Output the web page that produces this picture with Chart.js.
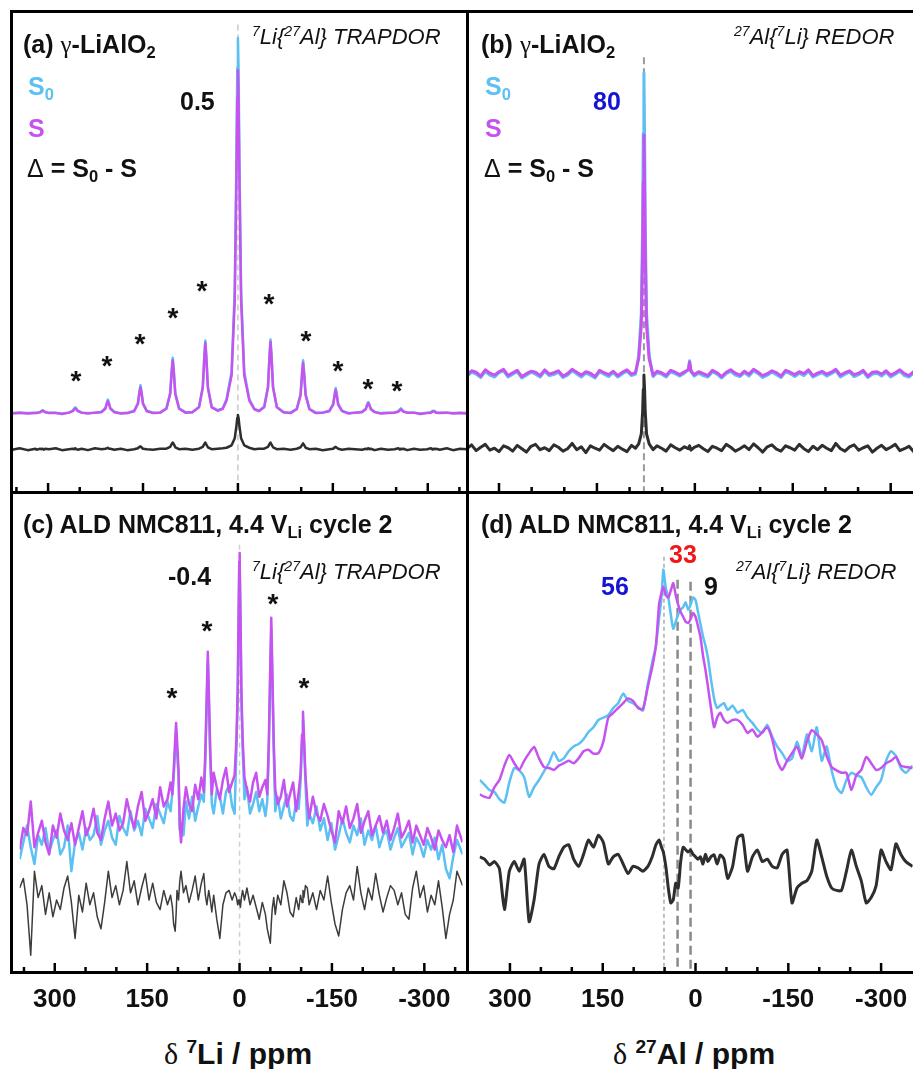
<!DOCTYPE html>
<html>
<head>
<meta charset="utf-8">
<script src="https://cdn.jsdelivr.net/npm/chart.js@4.4.1/dist/chart.umd.min.js"></script>
<style>
html, body { margin: 0; padding: 0; background: #fff; overflow: hidden; }
#wrap { position: relative; width: 913px; height: 1069px; overflow: hidden; }
canvas { position: absolute; }
.bar { position: absolute; background: #000; }
.t { position: absolute; white-space: nowrap; line-height: 1; font-family: "Liberation Sans", Arial, sans-serif;
     font-weight: bold; font-size: 25px; color: #111; }
.t sub { font-size: 0.66em; vertical-align: -0.3em; line-height: 0; }
.t sup { font-size: 0.64em; vertical-align: 0.55em; line-height: 0; }
.t .n { font-weight: normal; }
.t.it { font-style: italic; font-weight: normal; font-size: 22px; }
.t.star { font-size: 28px; transform: translateX(-50%); }
.t.ax { font-size: 30px; transform: translateX(-50%); }
.t .greek { font-family: "Liberation Serif", serif; font-weight: normal; }
</style>
</head>
<body>
<div id="wrap">
  <canvas id="pa" width="455" height="481" style="left:12px;top:11px"></canvas>
  <canvas id="pb" width="457" height="481" style="left:467px;top:11px"></canvas>
  <canvas id="pc" width="455" height="540" style="left:12px;top:492px"></canvas>
  <canvas id="pd" width="457" height="540" style="left:467px;top:492px"></canvas>
  <div style="position:absolute;left:10px;top:10px;width:915px;height:964px;border:3px solid #000;box-sizing:border-box"></div>
  <div class="bar" style="left:466px;top:10px;width:3px;height:964px"></div>
  <div class="bar" style="left:10px;top:491px;width:915px;height:3px"></div>
</div>
<script>
// x ranges (ppm), left edge first
const liRange = [357, -362];
const alRange = [349, -351];
const tickPpm = [350, 300, 250, 200, 150, 100, 50, 0, -50, -100, -150, -200, -250, -300, -350];
const labelPpm = [300, 150, 0, -150, -300];

// (a) 7Li{27Al} TRAPDOR, gamma-LiAlO2
const aPpm = [357, 345, 332, 320,
  318.5, 312.5, 310, 308.5, 307, 304.5, 298.5, 288, 278,
  267, 261, 258.5, 257, 255.5, 253, 247, 237, 226,
  215.5, 209.5, 207, 205.5, 204, 201.5, 195.5, 185, 175,
  164, 158, 155.5, 154, 152.5, 150, 144, 134, 123,
  113, 107, 104.5, 103, 101.5, 99, 93, 83, 72,
  61.5, 55.5, 53, 51.5, 50, 47.5, 41.5, 32, 24,
  18, 10, 5, 2.5, 1, 0, -1, -2.5, -5, -10, -18, -26, -33,
  -41.5, -47.5, -50, -51.5, -53, -55.5, -61.5, -72, -83,
  -93, -99, -101.5, -103, -104.5, -107, -113, -123, -134,
  -144.5, -150.5, -153, -154.5, -156, -158.5, -164.5, -175, -185,
  -196, -202, -204.5, -206, -207.5, -210, -216, -226, -237,
  -247.5, -253.5, -256, -257.5, -259, -261.5, -267.5, -278, -288,
  -299, -305, -307.5, -309, -310.5, -313, -319, -330, -340, -351, -362];
const aS0 = [16.4, 16.5, 16.4, 16.5,
  16.5, 16.6, 16.8, 17.0, 16.8, 16.6, 16.5, 16.5, 16.3,
  16.5, 16.9, 17.4, 17.6, 17.4, 16.9, 16.5, 16.4, 16.5,
  16.7, 17.4, 18.6, 19.2, 18.6, 17.4, 16.7, 16.4, 16.4,
  16.9, 18.5, 21.0, 22.2, 21.0, 18.5, 16.9, 16.5, 16.5,
  17.4, 20.6, 25.6, 27.9, 25.6, 20.6, 17.4, 16.6, 16.6,
  17.7, 21.9, 28.5, 31.5, 28.5, 21.9, 17.7, 17.0, 17.4,
  19.3, 25.0, 42.1, 67.9, 88.2, 94.4, 88.2, 67.9, 42.1, 25.0, 19.3, 17.3, 16.9,
  17.7, 21.9, 28.6, 31.7, 28.6, 21.9, 17.7, 16.6, 16.5,
  17.3, 20.3, 25.1, 27.4, 25.1, 20.3, 17.3, 16.5, 16.5,
  16.9, 18.3, 20.5, 21.6, 20.5, 18.3, 16.9, 16.4, 16.5,
  16.7, 17.3, 18.3, 18.7, 18.3, 17.3, 16.7, 16.4, 16.5,
  16.5, 16.8, 17.2, 17.4, 17.2, 16.8, 16.5, 16.5, 16.3,
  16.5, 16.6, 16.8, 16.9, 16.8, 16.6, 16.5, 16.5, 16.4, 16.5, 16.4];
const aS = [16.3, 16.5, 16.3, 16.4,
  16.4, 16.6, 16.8, 16.9, 16.8, 16.6, 16.4, 16.4, 16.2,
  16.5, 16.8, 17.2, 17.4, 17.2, 16.8, 16.5, 16.3, 16.5,
  16.6, 17.3, 18.4, 18.9, 18.4, 17.3, 16.6, 16.3, 16.4,
  16.8, 18.3, 20.7, 21.8, 20.7, 18.3, 16.8, 16.4, 16.5,
  17.3, 20.4, 25.2, 27.4, 25.2, 20.4, 17.3, 16.5, 16.6,
  17.6, 21.7, 28.1, 31.0, 28.1, 21.7, 17.6, 16.9, 17.3,
  19.0, 24.2, 39.9, 63.5, 82.0, 87.7, 82.0, 63.5, 39.9, 24.2, 19.0, 17.2, 16.8,
  17.6, 21.7, 28.2, 31.2, 28.2, 21.7, 17.6, 16.6, 16.4,
  17.2, 20.1, 24.7, 26.8, 24.7, 20.1, 17.2, 16.4, 16.5,
  16.8, 18.1, 20.2, 21.2, 20.2, 18.1, 16.8, 16.3, 16.5,
  16.6, 17.2, 18.1, 18.5, 18.1, 17.2, 16.6, 16.3, 16.4,
  16.5, 16.7, 17.0, 17.2, 17.0, 16.7, 16.5, 16.5, 16.2,
  16.4, 16.5, 16.7, 16.8, 16.7, 16.5, 16.4, 16.5, 16.3, 16.4, 16.3];
const aDiff = [8.8, 9.1, 8.7, 9.0,
  8.8, 9.0, 8.9, 9.0, 8.8, 9.0, 8.9, 9.1, 8.7,
  8.9, 9.0, 8.9, 9.1, 8.9, 8.8, 9.0, 8.7, 9.1,
  8.9, 9.0, 9.1, 9.2, 9.0, 9.0, 8.8, 9.0, 8.7,
  8.9, 9.1, 9.4, 9.5, 9.3, 9.0, 8.9, 8.8, 9.0,
  9.0, 9.4, 10.0, 10.3, 10.0, 9.3, 8.9, 9.0, 8.8,
  9.0, 9.4, 10.0, 10.3, 9.9, 9.3, 8.9, 9.0, 9.1,
  9.2, 9.7, 11.2, 13.6, 15.4, 16.0, 15.4, 13.6, 11.2, 9.7, 9.2, 8.9, 9.0,
  9.0, 9.4, 10.0, 10.3, 9.9, 9.3, 8.9, 9.0, 8.8,
  9.0, 9.3, 9.8, 10.1, 9.8, 9.2, 8.9, 9.0, 8.7,
  8.9, 9.0, 9.3, 9.4, 9.2, 9.0, 8.8, 9.0, 8.9,
  8.8, 9.0, 8.9, 9.1, 8.9, 9.0, 8.7, 9.0, 8.8,
  8.9, 9.1, 8.8, 9.0, 8.9, 9.0, 8.7, 9.0, 8.8,
  8.9, 9.1, 8.8, 9.0, 8.9, 9.0, 8.8, 9.1, 8.7, 9.0, 8.9];

// (b) 27Al{7Li} REDOR, gamma-LiAlO2
const bPpm = [349, 342, 335, 328, 321, 314, 307, 300, 293, 286,
  279, 272, 265, 258, 251, 244, 237, 230, 223, 216,
  209, 202, 195, 188, 181, 174, 167, 160, 153, 146,
  139, 132, 125, 118, 111, 104, 97, 91,
  86, 82, 80, 79, 78, 77, 76, 74, 70,
  64, 58, 51, 44, 37, 30, 23, 16, 10, 8, 6, 1,
  -6, -13, -20, -27, -34, -41, -48, -55, -62, -69,
  -76, -83, -90, -97, -104, -111, -118, -125, -132, -139,
  -146, -153, -160, -167, -174, -181, -188, -195, -202, -209,
  -216, -223, -230, -237, -244, -251, -258, -265, -272, -279,
  -286, -293, -300, -307, -314, -321, -328, -335, -342, -351];
const bS0 = [24.1, 24.9, 24.5, 23.8, 25.1, 24.3, 23.9, 24.8, 25.2, 23.9,
  24.5, 25.0, 23.7, 24.3, 24.9, 24.5, 23.9, 25.1, 24.2, 24.4,
  24.9, 23.8, 24.3, 25.2, 24.6, 23.9, 24.7, 24.3, 23.7, 25.0,
  24.5, 24.0, 24.8, 23.9, 24.6, 25.1, 24.2, 24.5,
  28.4, 37.2, 55.9, 74.6, 87.1, 74.6, 55.9, 37.2, 28.4,
  24.0, 24.8, 24.5, 23.9, 25.0, 24.6, 24.1, 24.7, 25.5, 27.3, 25.0, 24.1,
  24.7, 24.2, 23.9, 25.0, 24.5, 23.7, 24.6, 25.1, 24.3, 24.0,
  24.8, 24.1, 25.2, 24.6, 23.8, 24.3, 24.9, 24.4, 23.8, 25.0,
  24.6, 24.0, 24.7, 24.2, 25.1, 23.9, 24.4, 24.8, 24.1, 24.6,
  25.2, 23.9, 24.5, 24.9, 24.0, 24.4, 25.0, 23.8, 24.5, 24.7,
  24.1, 24.9, 23.9, 24.5, 25.1, 24.2, 23.9, 24.7, 24.3, 24.3];
const bS = [24.4, 25.2, 24.9, 24.1, 25.4, 24.7, 24.3, 25.0, 25.5, 24.2,
  24.8, 25.3, 24.0, 24.6, 25.1, 24.9, 24.2, 25.4, 24.5, 24.8,
  25.2, 24.1, 24.6, 25.5, 24.9, 24.3, 25.0, 24.7, 24.0, 25.3,
  24.8, 24.4, 25.1, 24.2, 24.9, 25.4, 24.5, 24.8,
  27.7, 34.6, 49.5, 64.3, 74.2, 64.3, 49.5, 34.6, 27.7,
  24.3, 25.1, 24.8, 24.2, 25.3, 24.9, 24.4, 25.0, 25.4, 27.0, 25.2, 24.4,
  25.0, 24.6, 24.2, 25.3, 24.8, 24.0, 24.9, 25.4, 24.7, 24.3,
  25.1, 24.5, 25.5, 24.9, 24.2, 24.6, 25.2, 24.8, 24.1, 25.3,
  24.9, 24.4, 25.0, 24.6, 25.4, 24.2, 24.7, 25.1, 24.5, 24.9,
  25.5, 24.3, 24.8, 25.2, 24.4, 24.7, 25.3, 24.1, 24.9, 25.0,
  24.5, 25.2, 24.3, 24.8, 25.4, 24.6, 24.2, 25.0, 24.7, 24.6];
const bDiff = [9.0, 9.8, 8.6, 9.3, 9.9, 8.7, 9.1, 8.4, 9.6, 9.2,
  8.5, 9.7, 9.0, 8.3, 9.5, 9.9, 8.8, 9.2, 8.6, 9.8,
  9.3, 8.5, 9.0, 10.1, 8.8, 9.4, 8.2, 9.6, 9.1, 8.7,
  9.9, 9.2, 8.6, 9.5, 8.9, 8.4, 9.7, 9.1,
  10.0, 12.1, 16.7, 21.3, 24.3, 21.3, 16.7, 12.1, 10.0,
  8.8, 9.6, 9.1, 8.5, 9.8, 9.2, 8.7, 9.4, 9.0, 9.6, 8.7, 9.3,
  9.7, 9.0, 8.4, 9.5, 9.1, 8.6, 9.9, 9.3, 8.5, 9.0,
  9.6, 8.8, 10.0, 9.2, 8.3, 9.4, 9.8, 8.9, 8.5, 9.6,
  9.2, 8.7, 9.9, 9.0, 8.4, 9.5, 8.8, 9.7, 9.1, 8.6,
  10.1, 9.0, 8.5, 9.4, 9.8, 8.7, 9.2, 9.6, 8.3, 9.1,
  9.7, 8.8, 9.3, 9.9, 8.6, 9.0, 9.5, 8.4, 9.2, 9.0];

// (c) 7Li{27Al} TRAPDOR, ALD NMC811
const cPpm = [357, 351, 345, 339, 333, 327, 321, 315, 309, 303,
  297, 291, 285, 279, 273, 267, 261, 255, 249, 243,
  237, 231, 225, 219, 213, 207, 201, 195, 189, 183,
  177, 171, 165, 159, 153, 147, 141, 135, 129, 123,
  117, 112, 109,
  107, 104.5, 103, 101.5, 99,
  97, 95, 91, 87, 82, 77, 72, 67, 62, 58,
  55.5, 53, 51.5, 50, 47.5,
  45, 42, 37, 32, 27, 22, 17, 12, 8,
  5, 3, 1.5, 0.5, 0, -0.5, -1.5, -3, -5,
  -8, -12, -17, -22, -27, -32, -37, -42, -45,
  -47.5, -50, -51.5, -53, -55.5,
  -58, -62, -67, -72, -77, -82, -87, -92, -96,
  -99, -101.5, -103, -104.5, -107,
  -110, -113,
  -119, -125, -131, -137, -143, -149, -155, -161, -167, -173,
  -179, -185, -191, -197, -203, -209, -215, -221, -227, -233,
  -239, -245, -251, -257, -263, -269, -275, -281, -287, -293,
  -299, -305, -311, -317, -323, -329, -335, -341, -347, -353,
  -362];
const cS0 = [23.5, 27.0, 30.5, 26.0, 22.5, 28.5, 26.5, 30.0, 25.0, 27.5,
  29.5, 24.5, 26.0, 30.5, 21.0, 27.0, 29.0, 25.5, 30.0, 27.5,
  28.5, 32.5, 26.5, 29.5, 31.5, 28.0, 26.5, 32.5, 30.0, 28.5,
  33.5, 29.5, 31.5, 28.5, 34.0, 32.0, 30.0, 35.0, 33.0, 31.0,
  35.5, 33.5, 37.5,
  40.3, 46.5, 50.0, 46.5, 40.3,
  29.5, 31.0, 28.5, 35.5, 32.0, 36.5, 31.5, 34.5, 37.0, 35.5,
  44.0, 57.1, 64.5, 57.1, 44.0,
  35.0, 33.0, 38.0, 36.5, 33.0, 37.5, 39.0, 34.5, 33.0,
  46.7, 56.9, 72.9, 83.6, 85.5, 83.6, 72.9, 56.9, 46.7,
  36.0, 38.5, 33.0, 35.0, 37.5, 33.5, 36.0, 32.5, 35.5,
  45.9, 62.3, 71.5, 62.3, 45.9,
  33.5, 36.5, 32.0, 34.5, 37.0, 32.5, 31.5, 35.5, 34.0,
  39.5, 47.8, 52.5, 47.8, 39.5,
  30.5, 33.0,
  31.0, 34.5, 29.5, 32.0, 27.5, 31.0, 25.5, 28.5, 32.0, 29.0,
  27.0, 30.5, 28.5, 32.0, 26.5, 29.5, 27.5, 30.5, 26.0, 28.5,
  29.5, 25.5, 28.0, 30.0, 26.0, 27.5, 29.0, 24.5, 28.0, 26.5,
  24.0, 27.5, 25.5, 28.0, 23.5, 26.5, 21.5, 19.5, 24.0, 27.5,
  24.5];
const cS = [25.5, 30.0, 28.5, 35.5, 26.0, 29.0, 31.5, 27.0, 24.5, 30.5,
  28.0, 33.0, 29.5, 27.5, 31.0, 26.5, 30.0, 33.5, 28.5, 30.5,
  34.0, 29.0, 27.5, 32.0, 35.5, 30.5, 33.0, 29.5, 31.0, 36.0,
  32.5, 30.0, 34.5, 37.5, 31.5, 33.5, 36.0, 32.0, 38.5, 34.5,
  36.0, 39.5, 37.0,
  41.9, 48.3, 51.9, 48.3, 41.9,
  30.5, 27.0, 34.0, 38.5, 35.0, 33.5, 39.0, 36.0, 40.5, 37.5,
  46.0, 59.2, 66.7, 59.2, 46.0,
  37.0, 41.5, 38.5, 36.0, 40.0, 42.5, 37.5, 39.5, 41.0,
  48.7, 58.8, 74.7, 85.4, 87.3, 85.4, 74.7, 58.8, 48.7,
  40.5, 38.0, 35.5, 39.5, 41.5, 36.5, 38.5, 40.0, 37.0,
  48.0, 64.5, 73.8, 64.5, 48.0,
  38.0, 35.0, 36.5, 40.0, 34.5, 37.0, 39.5, 33.5, 37.5,
  41.1, 49.5, 54.2, 49.5, 41.1,
  35.5, 32.0,
  36.5, 33.0, 31.5, 35.0, 32.5, 29.5, 27.0, 33.5, 31.0, 34.5,
  30.0, 32.0, 35.0, 29.0, 31.5, 33.5, 28.5, 30.5, 32.5, 29.0,
  31.5, 27.5, 30.0, 33.0, 28.0, 29.5, 31.5, 27.0, 30.5, 28.5,
  26.5, 30.0, 28.0, 25.5, 29.5, 27.5, 26.0, 28.5, 25.0, 30.5,
  27.0];
const cDiff = [17.5, 19.5, 14.0, 3.5, 21.0, 15.5, 18.0, 12.0, 16.5, 11.5,
  15.0, 13.0, 17.5, 20.0, 14.5, 7.0, 16.0, 12.5, 18.5, 14.0,
  16.5, 11.5, 9.0, 14.5, 21.0, 15.5, 18.0, 14.0, 17.0, 23.0,
  16.5, 19.0, 14.0, 17.5, 20.5, 15.0, 18.5, 14.5, 13.0, 17.0,
  14.0, 16.0, 13.5,
  10.0, 8.5, 12.0, 17.0, 15.0,
  19.0, 21.0, 16.5, 18.0, 14.5, 17.0, 20.0, 15.0, 18.5, 20.5,
  16.0, 14.0, 15.5, 17.0, 15.0,
  12.5, 16.0, 11.0, 7.0, 14.0, 16.5, 17.0, 15.0, 16.5,
  15.5, 14.0, 15.0, 14.5, 14.0, 15.0, 13.5, 15.5, 17.0,
  15.0, 17.5, 14.0, 16.0, 13.5, 11.0, 14.5, 12.0, 9.0,
  7.5, 6.0, 10.0, 13.0, 15.5,
  12.0, 16.0, 14.0, 19.0, 16.5, 12.5, 11.5, 15.5, 13.0,
  16.0, 14.5, 17.0, 15.5, 18.0,
  17.5, 14.0,
  16.5, 13.0, 17.0, 15.0, 20.0, 14.5, 10.0, 7.5, 13.0, 16.5,
  18.0, 15.0, 22.0, 16.5, 13.0, 17.5, 15.0, 20.5, 16.0, 12.5,
  15.5, 18.0, 17.0, 14.0, 16.5, 12.0, 11.0, 17.5, 21.0, 15.5,
  18.0, 12.5, 16.0, 14.0, 19.0, 13.5, 7.0, 12.0, 15.0, 21.0,
  18.0];

// (d) 27Al{7Li} REDOR, ALD NMC811
const dPpm = [349, 341, 333, 325, 317, 309, 301, 293, 285, 277,
  269, 261, 253, 245, 237, 229, 221, 213, 205, 197,
  189, 181, 173, 165, 157, 149, 141, 133, 125, 117,
  109, 101, 93, 85, 77,
  70, 64, 59, 55, 52, 48, 44, 40, 36, 32,
  28, 24, 20, 16, 12, 8, 4, 0, -4, -8,
  -12, -16, -20,
  -25, -30, -35, -40, -46, -52,
  -60, -68, -76, -84, -92, -100, -108, -116, -124, -132,
  -140, -148, -156, -164, -172, -180, -188, -196, -204, -212,
  -220, -228, -236, -244, -252, -260, -268, -276, -284, -292,
  -300, -308, -316, -324, -332, -340, -351];
const dS0 = [40.0, 39.0, 37.9, 37.5, 36.0, 35.3, 39.5, 42.5, 42.0, 40.6,
  36.5, 38.5, 40.0, 41.8, 43.5, 45.8, 44.0, 44.5, 46.0, 47.0,
  47.5, 48.5, 50.0, 51.0, 52.5, 53.0, 53.5, 55.0, 56.0, 58.0,
  56.5, 56.0, 55.2, 54.5, 60.0,
  64.5, 68.0, 73.5, 78.0, 83.8, 80.0, 78.0, 74.5, 71.5, 73.0,
  74.5, 75.5, 76.0, 77.0, 75.5, 76.5, 78.0, 77.5, 75.0, 72.5,
  70.0, 68.0, 65.5,
  61.0, 57.0, 55.0, 55.5, 56.0, 54.6,
  55.5, 54.0, 54.6, 53.0, 51.9, 50.5, 49.8, 51.5, 49.0, 47.0,
  45.6, 44.0, 44.5, 48.0, 45.0, 49.5, 46.0, 51.0, 44.0, 47.0,
  42.0, 38.5, 37.3, 40.0, 41.5, 41.0, 40.6, 38.5, 36.9, 38.5,
  40.0, 44.0, 46.0, 45.0, 42.5, 41.5, 43.0];
const dS = [37.0, 36.5, 36.3, 38.5, 40.0, 43.0, 45.2, 43.5, 42.1, 44.0,
  45.6, 46.9, 44.5, 42.7, 42.5, 42.1, 43.0, 43.5, 44.0, 43.5,
  44.5, 46.0, 46.3, 45.5, 45.6, 48.0, 53.0, 54.0, 55.0, 56.0,
  57.0, 56.5, 55.0, 54.8, 59.5,
  63.5, 68.0, 76.5, 79.0, 80.2, 78.5, 78.0, 79.5, 81.0, 78.5,
  76.5, 75.0, 74.0, 73.0, 72.7, 73.5, 74.8, 74.0, 72.0, 69.8,
  66.0, 63.0, 59.5,
  55.0, 51.0, 53.0, 54.0, 52.5, 51.9,
  52.5, 52.5, 51.5, 49.8, 50.5, 49.0, 50.0, 51.0, 48.5, 44.0,
  42.1, 44.0, 45.6, 47.0, 44.5, 48.0, 50.4, 49.5, 48.3, 45.0,
  42.7, 42.0, 41.5, 41.5, 37.9, 41.0, 42.1, 44.8, 43.5, 42.1,
  42.5, 43.5, 44.0, 44.8, 43.0, 42.7, 42.5];
const dDiff = [24.0, 23.5, 22.3, 23.0, 21.5, 13.0, 21.0, 23.0, 21.0, 23.5,
  10.5, 15.0, 22.5, 24.5, 22.0, 21.5, 24.0, 26.0, 26.5, 23.5,
  22.0, 24.5, 27.5, 26.0, 28.5, 27.0, 22.5, 24.0, 24.5, 22.5,
  20.5, 22.0, 21.7, 21.0, 22.0,
  24.0, 26.5, 27.5, 26.0, 25.0, 22.0, 17.5, 14.4, 15.0, 18.5,
  17.5, 23.0, 26.0, 25.5, 25.0, 25.4, 24.5, 24.0, 23.5, 24.0,
  22.5, 24.5, 23.0,
  24.0, 24.4, 22.5, 24.4, 23.5, 19.5,
  22.0, 28.0, 28.5, 21.0, 24.0, 25.4, 23.0, 23.5, 22.0, 21.7,
  24.5, 25.4, 14.4, 17.5, 18.5, 19.0, 21.0, 27.5, 24.0, 20.0,
  17.5, 17.0, 17.0, 21.0, 25.4, 22.0, 19.0, 14.4, 15.5, 18.0,
  25.4, 23.0, 21.3, 26.7, 24.5, 23.0, 22.0];

const CYAN = '#5cc0f2';
const MAGENTA = '#c653ef';
const DARK = '#2e2e2e';

const problems = [];
function pts(xs, ys, name) {
  if (xs.length !== ys.length) problems.push(name + ' ' + xs.length + '/' + ys.length);
  return xs.map((x, i) => ({x: x, y: ys[i]}));
}

// inward ticks on the bottom edge of every panel
const inTicks = {
  id: 'inTicks',
  afterDatasetsDraw(chart) {
    const {ctx, chartArea, scales} = chart;
    ctx.save();
    ctx.strokeStyle = '#000';
    ctx.lineWidth = 2.5;
    tickPpm.forEach(v => {
      const px = scales.x.getPixelForValue(v);
      if (px < chartArea.left + 2 || px > chartArea.right - 2) return;
      const len = labelPpm.includes(v) ? 9 : 5;
      ctx.beginPath();
      ctx.moveTo(px, chartArea.bottom);
      ctx.lineTo(px, chartArea.bottom - len);
      ctx.stroke();
    });
    ctx.restore();
  }
};

// dashed reference lines
function guides(list) {
  return {
    id: 'guides',
    beforeDatasetsDraw(chart) {
      const {ctx, scales} = chart;
      list.forEach(g => {
        const px = scales.x.getPixelForValue(g.ppm);
        ctx.save();
        ctx.strokeStyle = g.color;
        ctx.lineWidth = g.w;
        ctx.setLineDash(g.dash);
        ctx.beginPath();
        ctx.moveTo(px, scales.y.getPixelForValue(g.top));
        ctx.lineTo(px, scales.y.getPixelForValue(0));
        ctx.stroke();
        ctx.restore();
      });
    }
  };
}

function spectrum(id, range, lines, marks, labels) {
  const datasets = lines.map(l => ({
    data: l.data,
    borderColor: l.color,
    borderWidth: l.w,
    pointRadius: 0,
    tension: l.tension || 0,
    borderJoinStyle: 'round',
    fill: false
  }));
  const xScale = {
    type: 'linear', reverse: true, min: range[1], max: range[0],
    display: labels,
    grid: {display: false, drawTicks: false},
    border: {display: false},
    afterBuildTicks: s => { s.ticks = tickPpm.map(v => ({value: v})); },
    ticks: {
      autoSkip: false, maxRotation: 0, padding: 12, color: '#111',
      font: {family: '"Liberation Sans", Arial, sans-serif', size: 26, weight: 'bold'},
      callback: v => labelPpm.includes(v) ? String(v) : ''
    }
  };
  if (labels) xScale.afterFit = s => { s.height = 60; };
  return new Chart(document.getElementById(id), {
    type: 'line',
    data: {datasets: datasets},
    options: {
      responsive: false,
      animation: false,
      events: [],
      layout: {padding: 0, autoPadding: false},
      plugins: {legend: {display: false}, tooltip: {enabled: false}},
      scales: {
        x: xScale,
        y: {display: false, min: 0, max: 100}
      }
    },
    plugins: [guides(marks), inTicks]
  });
}

spectrum('pa', liRange, [
  {data: pts(aPpm, aS, 'aS'), color: MAGENTA, w: 2.5},
  {data: pts(aPpm, aS0, 'aS0'), color: CYAN, w: 2.5},
  {data: pts(aPpm, aDiff, 'aDiff'), color: DARK, w: 2.5}
], [{ppm: 0, top: 97.2, color: '#c8c8c8', w: 1.5, dash: [6, 4]}], false);

spectrum('pb', alRange, [
  {data: pts(bPpm, bS, 'bS'), color: MAGENTA, w: 3},
  {data: pts(bPpm, bS0, 'bS0'), color: CYAN, w: 3},
  {data: pts(bPpm, bDiff, 'bDiff'), color: DARK, w: 3}
], [{ppm: 78, top: 90.4, color: '#9a9a9a', w: 2, dash: [7, 4]}], false);

spectrum('pc', liRange, [
  {data: pts(cPpm, cS, 'cS'), color: MAGENTA, w: 2.5},
  {data: pts(cPpm, cS0, 'cS0'), color: CYAN, w: 2.5},
  {data: pts(cPpm, cDiff, 'cDiff'), color: '#3c3c3c', w: 1.5}
], [{ppm: 0, top: 89, color: '#cfcfcf', w: 1.5, dash: [5, 4]}], true);

spectrum('pd', alRange, [
  {data: pts(dPpm, dS, 'dS'), color: MAGENTA, w: 2.5, tension: 0.2},
  {data: pts(dPpm, dS0, 'dS0'), color: CYAN, w: 2.5, tension: 0.2},
  {data: pts(dPpm, dDiff, 'dDiff'), color: DARK, w: 3, tension: 0.2}
], [
  {ppm: 51, top: 86.5, color: '#ababab', w: 1.5, dash: [4, 3]},
  {ppm: 29, top: 81.7, color: '#8a8a8a', w: 2.5, dash: [9, 5]},
  {ppm: 8, top: 81.3, color: '#8a8a8a', w: 2.5, dash: [9, 5]}
], true);

// text: [html, left x, baseline y, class, colour]
const notes = [
  ['(a) <span class="greek">γ</span>-LiAlO<sub>2</sub>', 23, 53, '', '#111'],
  ['S<sub>0</sub>', 28, 95, '', CYAN],
  ['S', 28, 137, '', MAGENTA],
  ['<span class="n">Δ</span> = S<sub>0</sub> - S', 27, 177, '', '#111'],
  ['0.5', 180, 110, '', '#111'],
  ['<sup>7</sup>Li{<sup>27</sup>Al} TRAPDOR', 252, 45, 'it', '#111'],
  ['(b) <span class="greek">γ</span>-LiAlO<sub>2</sub>', 481, 53, '', '#111'],
  ['S<sub>0</sub>', 485, 95, '', CYAN],
  ['S', 485, 137, '', MAGENTA],
  ['<span class="n">Δ</span> = S<sub>0</sub> - S', 484, 177, '', '#111'],
  ['80', 593, 110, '', '#1414d2'],
  ['<sup>27</sup>Al{<sup>7</sup>Li} REDOR', 734, 45, 'it', '#111'],
  ['(c) ALD NMC811, 4.4 V<sub>Li</sub> cycle 2', 23, 533, '', '#111'],
  ['-0.4', 168, 585, '', '#111'],
  ['<sup>7</sup>Li{<sup>27</sup>Al} TRAPDOR', 252, 580, 'it', '#111'],
  ['(d) ALD NMC811, 4.4 V<sub>Li</sub> cycle 2', 481, 533, '', '#111'],
  ['56', 601, 595, '', '#1414d2'],
  ['33', 669, 563, '', '#f01818'],
  ['9', 704, 595, '', '#111'],
  ['<sup>27</sup>Al{<sup>7</sup>Li} REDOR', 736, 580, 'it', '#111']
];
// spinning sideband asterisks: centre x, centre y
const stars = [[76, 375], [107, 360], [140, 338], [173, 312], [202, 285], [269, 298],
  [306, 335], [338, 365], [368, 383], [397, 385],
  [172, 692], [207, 625], [273, 598], [304, 682]];
const axisTitles = [
  ['<span class="greek">δ</span> <sup>7</sup>Li / ppm', 238, 1064],
  ['<span class="greek">δ</span> <sup>27</sup>Al / ppm', 694, 1064]
];

const wrap = document.getElementById('wrap');
function put(html, x, base, cls, color, size) {
  const el = document.createElement('div');
  el.className = 't ' + cls;
  el.innerHTML = html;
  el.style.left = x + 'px';
  el.style.top = (base - 0.847 * size) + 'px';
  el.style.color = color;
  wrap.appendChild(el);
}
notes.forEach(n => put(n[0], n[1], n[2], n[3], n[4], n[3] === 'it' ? 22 : 25));
stars.forEach(s => put('*', s[0], s[1] + 0.575 * 28, 'star', '#111', 28));
axisTitles.forEach(a => put(a[0], a[1], a[2], 'ax', '#111', 30));

if (problems.length) throw new Error('length mismatch: ' + problems.join(', '));
</script>
</body>
</html>
